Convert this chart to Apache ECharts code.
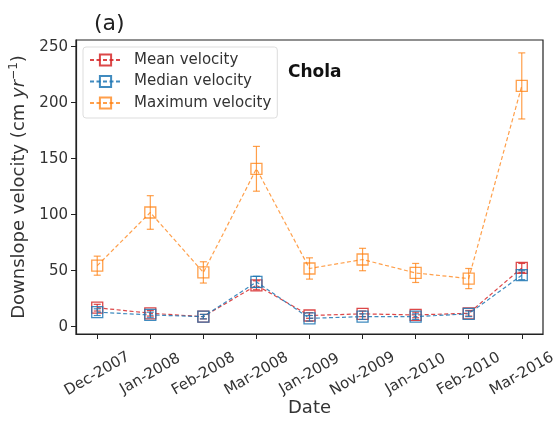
<!DOCTYPE html>
<html><head><meta charset="utf-8">
<script src="https://cdn.jsdelivr.net/npm/echarts@6/dist/echarts.min.js"></script>
<style>html,body{margin:0;padding:0;background:#fff}#c{width:557px;height:422px}</style>
</head><body><div id="c"></div>
<script>
const categories = ['Dec-2007','Jan-2008','Feb-2008','Mar-2008','Jan-2009','Nov-2009','Jan-2010','Feb-2010','Mar-2016'];
const meanVals   = [17, 12, 9, 37, 10, 11.5, 10.5, 12, 52.5];
const meanErr    = [3, 2.5, 2, 4, 2.5, 2.5, 2.5, 2.5, 4];
const medianVals = [13, 10.5, 9, 40, 7.5, 9, 9, 11.5, 46];
const medianErr  = [3, 2.5, 2, 5, 2.5, 2.5, 2.5, 2.5, 4];
const maxVals    = [54.5, 102, 48.5, 141, 52, 60, 48, 43, 215];
const maxErr     = [8.5, 15, 9.5, 20, 9.5, 10, 8.5, 9, 29.5];
const yTicks = [0, 50, 100, 150, 200, 250];

const colRed = 'rgba(214,39,40,0.85)';
const colBlue = 'rgba(31,119,180,0.85)';
const colOrange = 'rgba(255,127,14,0.75)';
const xIdx = categories.map((c, i) => i);
const FONT = 'DejaVu Sans';

function lineSeries(name, vals, color, z) {
  return {
    name, type: 'line', z,
    data: vals.map((v, i) => [i, v]),
    symbol: 'rect', symbolSize: 11,
    lineStyle: { color, width: 1.2, type: [4, 2.5] },
    itemStyle: { color: 'rgba(255,255,255,0)', borderColor: color, borderWidth: 1.3 },
    emphasis: { disabled: true }
  };
}
function errSeries(vals, errs, color, z) {
  return {
    type: 'custom', z, silent: true,
    data: vals.map((v, i) => [i, v - errs[i], v + errs[i]]),
    renderItem(params, api) {
      const lo = api.coord([api.value(0), api.value(1)]);
      const hi = api.coord([api.value(0), api.value(2)]);
      const w = 3.5;
      const st = { stroke: color, lineWidth: 1.2 };
      return { type: 'group', children: [
        { type: 'line', shape: { x1: lo[0], y1: lo[1], x2: hi[0], y2: hi[1] }, style: st },
        { type: 'line', shape: { x1: lo[0]-w, y1: lo[1], x2: lo[0]+w, y2: lo[1] }, style: st },
        { type: 'line', shape: { x1: hi[0]-w, y1: hi[1], x2: hi[0]+w, y2: hi[1] }, style: st }
      ]};
    }
  };
}

const chart = echarts.init(document.getElementById('c'), null, { renderer: 'canvas' });
chart.setOption({
  animation: false,
  textStyle: { fontFamily: FONT },
  grid: { left: 76, top: 40, right: 14, bottom: 88, outerBoundsMode: 'none', containLabel: false,
          show: true, borderColor: '#222', borderWidth: 1.2 },
  title: [
    { text: '(a)', left: 89, top: 8, textStyle: { fontSize: 22, fontWeight: 'normal', color: '#222', fontFamily: FONT } },
    { text: 'Chola', left: 283, top: 59, textStyle: { fontSize: 17, fontWeight: 'bold', color: '#111', fontFamily: FONT } }
  ],
  legend: {
    left: 83, top: 47, orient: 'vertical',
    data: ['Mean velocity', 'Median velocity', 'Maximum velocity'],
    itemWidth: 31, itemHeight: 14, itemGap: 5.5,
    padding: [5, 6, 7, 6],
    backgroundColor: '#fff', borderColor: '#ddd', borderWidth: 1, borderRadius: 3,
    textStyle: { fontSize: 15, lineHeight: 16, color: '#333', fontFamily: FONT, padding: [0, 0, 0, 8] }
  },
  xAxis: {
    type: 'value', min: -0.4, max: 8.4,
    name: 'Date', nameLocation: 'middle', nameGap: 65, nameMoveOverlap: false,
    nameTextStyle: { fontSize: 18, color: '#333', fontFamily: FONT },
    axisLine: { show: true, onZero: false, lineStyle: { color: '#222', width: 1.2 } },
    axisTick: { show: true, length: 5, customValues: xIdx, lineStyle: { color: '#222' } },
    axisLabel: {
      customValues: xIdx, rotate: 30, fontSize: 15, color: '#333', margin: 40,
      align: 'center', verticalAlign: 'middle', fontFamily: FONT,
      formatter: v => categories[Math.round(v)]
    },
    splitLine: { show: false }
  },
  yAxis: {
    type: 'value', min: -6.5, max: 256,
    name: 'Downslope velocity (cm {i|yr}{s|−1})', nameLocation: 'middle', nameGap: 44,
    nameTextStyle: {
      fontSize: 18, color: '#333', fontFamily: FONT,
      rich: {
        i: { fontSize: 18, fontStyle: 'italic', color: '#333', fontFamily: FONT },
        s: { fontSize: 12, color: '#333', fontFamily: FONT, padding: [0, 0, 11, 0] }
      }
    },
    axisLine: { show: true, onZero: false, lineStyle: { color: '#222', width: 1.2 } },
    axisTick: { show: true, length: 5, customValues: yTicks, lineStyle: { color: '#222' } },
    axisLabel: { customValues: yTicks, fontSize: 15, color: '#333', margin: 8, fontFamily: FONT },
    splitLine: { show: false }
  },
  series: [
    lineSeries('Mean velocity', meanVals, colRed, 2),
    errSeries(meanVals, meanErr, colRed, 2),
    lineSeries('Median velocity', medianVals, colBlue, 3),
    errSeries(medianVals, medianErr, colBlue, 3),
    lineSeries('Maximum velocity', maxVals, colOrange, 4),
    errSeries(maxVals, maxErr, colOrange, 4)
  ]
});
</script></body></html>
